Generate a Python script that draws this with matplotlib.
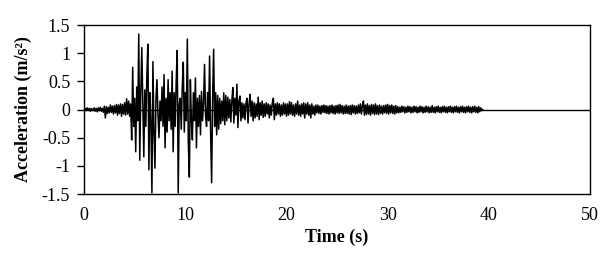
import numpy as np
import matplotlib
matplotlib.use('Agg')
import matplotlib.pyplot as plt

# sampling interval of the record (s)
dt = 0.1

# acceleration (m/s2), one row per second
acc = [
    0.00, 0.02, -0.02, 0.03, -0.01, 0.02, -0.03, 0.02, -0.02, 0.01,
    0.03, -0.03, 0.02, -0.04, 0.03, -0.02, 0.04, -0.03, 0.02, -0.05,
    0.06, -0.15, 0.05, -0.07, 0.04, -0.06, 0.08, -0.05, 0.06, -0.08,
    0.07, -0.06, 0.09, -0.10, 0.08, -0.07, 0.10, -0.12, 0.09, -0.08,
    0.12, -0.10, 0.19, -0.08, 0.15, -0.12, 0.10, -0.54, 0.75, -0.30,
    0.20, -0.75, 0.40, -0.20, 1.34, -0.90, 0.30, 1.10, 0.10, -0.84,
    0.35, -0.30, 0.60, 1.16, -1.07, 0.30, -0.20, -1.48, 0.85, -0.40,
    -1.04, 0.20, 0.53, -0.10, -0.50, 0.15, -0.20, 0.40, -0.30, 0.62,
    -0.68, 0.20, -0.40, 0.53, -0.20, 0.30, -0.35, 0.68, -0.75, 0.30,
    -0.30, 0.50, 1.05, -1.48, 0.10, 0.20, -0.35, 0.40, 0.84, -0.40,
    0.30, -0.20, 1.25, -0.60, -1.20, 0.53, -0.20, -0.54, 0.30, -0.20,
    0.56, -0.68, 0.20, -0.30, 0.25, -0.45, 0.32, -0.20, 0.10, 0.80,
    -0.10, -0.30, 0.30, -0.20, 0.95, -0.40, -1.30, 0.20, 1.07, -0.30,
    0.30, -0.45, 0.25, -0.35, 0.20, -0.25, 0.15, -0.20, 0.30, -0.27,
    0.25, -0.20, 0.22, -0.15, 0.18, -0.22, 0.15, 0.39, -0.24, 0.20,
    -0.10, 0.45, -0.32, 0.15, 0.24, -0.20, 0.12, -0.15, 0.10, -0.18,
    0.12, 0.20, -0.24, 0.10, 0.27, -0.12, 0.15, -0.20, 0.12, -0.15,
    0.10, -0.12, 0.22, -0.18, 0.12, -0.10, 0.15, -0.14, 0.10, -0.12,
    0.12, -0.08, 0.10, -0.15, 0.08, -0.10, 0.12, 0.20, -0.18, 0.10,
    -0.10, 0.12, -0.08, 0.10, -0.12, 0.08, -0.10, 0.12, -0.08, 0.10,
    -0.12, 0.10, -0.10, 0.14, -0.08, 0.12, -0.10, 0.08, -0.12, 0.10,
    -0.08, 0.15, -0.10, 0.08, -0.12, 0.10, -0.08, 0.12, -0.15, 0.10,
    -0.08, 0.12, -0.10, 0.08, -0.15, 0.10, -0.08, 0.06, -0.10, 0.08,
    -0.06, 0.08, -0.07, 0.06, -0.08, 0.07, -0.05, 0.08, -0.06, 0.07,
    -0.07, 0.06, -0.08, 0.07, -0.06, 0.08, -0.07, 0.06, -0.08, 0.07,
    -0.06, 0.08, -0.07, 0.09, -0.06, 0.07, -0.08, 0.06, -0.07, 0.08,
    -0.07, 0.06, -0.08, 0.07, -0.09, 0.08, -0.06, 0.07, -0.08, 0.06,
    -0.07, 0.08, -0.06, 0.10, -0.08, 0.07, 0.15, -0.10, 0.08, -0.09,
    0.10, -0.08, 0.07, -0.10, 0.09, -0.07, 0.08, -0.09, 0.10, -0.08,
    0.07, -0.09, 0.08, -0.07, 0.06, -0.08, 0.07, -0.06, 0.08, -0.07,
    0.09, -0.08, 0.07, -0.06, 0.08, -0.07, 0.06, -0.08, 0.07, -0.06,
    0.05, -0.06, 0.04, -0.05, 0.06, -0.04, 0.05, -0.06, 0.04, -0.05,
    0.06, -0.04, 0.05, -0.06, 0.04, -0.05, 0.06, -0.04, 0.05, -0.06,
    0.04, -0.05, 0.06, -0.04, 0.05, -0.06, 0.04, -0.05, 0.06, -0.04,
    0.05, -0.06, 0.04, -0.05, 0.07, -0.05, 0.04, -0.06, 0.05, -0.04,
    0.06, -0.05, 0.04, -0.06, 0.05, -0.04, 0.06, -0.05, 0.04, -0.06,
    0.05, -0.04, 0.06, -0.05, 0.04, -0.06, 0.05, -0.04, 0.06, -0.05,
    0.04, -0.06, 0.05, -0.04, 0.06, -0.05, 0.04, -0.06, 0.05, -0.04,
    0.06, -0.05, 0.04, -0.06, 0.05, -0.04, 0.06, -0.05, 0.04, -0.06,
    0.05, -0.04, 0.03, -0.02, 0.00,
]
time = np.arange(len(acc)) * dt

x_ticks = [0, 10, 20, 30, 40, 50]
y_ticks = [-1.5, -1, -0.5, 0, 0.5, 1, 1.5]
y_labels = ['-1.5', '-1', '-0.5', '0', '0.5', '1', '1.5']

plt.rcParams['font.family'] = ['Liberation Serif', 'DejaVu Serif']

fig = plt.figure(figsize=(6.14, 2.58), dpi=100)
ax = fig.add_axes([0.137, 0.248, 0.824, 0.655])

ax.axhline(0, color='black', lw=1.0, zorder=1)
ax.plot(time, acc, color='black', lw=1.1, zorder=2)

ax.set_xlim(0, 50)
ax.set_ylim(-1.5, 1.5)
ax.set_xticks(x_ticks)
ax.set_yticks(y_ticks)
ax.set_yticklabels(y_labels)
ax.tick_params(axis='x', length=0, pad=9, labelsize=13)
ax.tick_params(axis='y', direction='out', length=5, width=1, pad=5, labelsize=13)
for s in ax.spines.values():
    s.set_linewidth(1.0)

ax.set_xlabel('Time (s)', fontsize=13, fontweight='bold', labelpad=4)
ax.set_ylabel('Acceleration (m/s²)', fontsize=13, fontweight='bold', labelpad=7)

fig.savefig('out.png', dpi=100)
